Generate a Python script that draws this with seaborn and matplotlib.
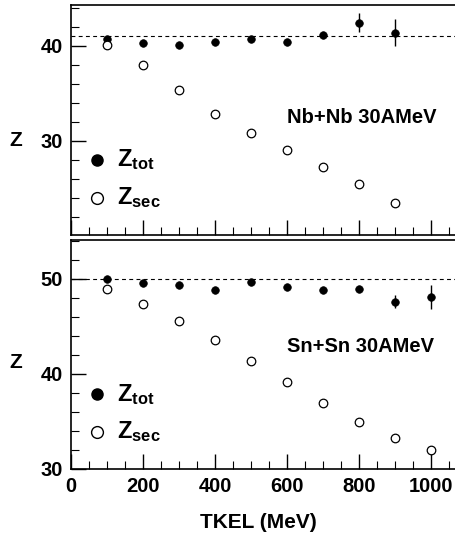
import numpy as np
import pandas as pd
import matplotlib
matplotlib.use("Agg")
import matplotlib.pyplot as plt
from matplotlib.ticker import MultipleLocator
import seaborn as sns

# Nb+Nb 30 AMeV
nb_tkel = [100, 200, 300, 400, 500, 600, 700, 800, 900]
nb_ztot = [40.77, 40.31, 40.14, 40.45, 40.77, 40.42, 41.12, 42.45, 41.40]
nb_ztot_err = [0.0, 0.0, 0.0, 0.0, 0.0, 0.0, 0.0, 0.96, 1.45]
nb_zsec = [40.07, 38.0, 35.38, 32.8, 30.84, 29.02, 27.27, 25.49, 23.46]
nb_zsys = 41

# Sn+Sn 30 AMeV
sn_tkel = [100, 200, 300, 400, 500, 600, 700, 800, 900, 1000]
sn_ztot = [50.0, 49.61, 49.37, 48.84, 49.72, 49.16, 48.81, 48.95, 47.61, 48.10]
sn_ztot_err = [0.0, 0.0, 0.0, 0.0, 0.0, 0.0, 0.0, 0.0, 0.70, 1.26]
sn_zsec = [48.91, 47.37, 45.54, 43.58, 41.37, 39.16, 36.95, 34.91, 33.23, 32.0]
sn_zsys = 50

sns.set_theme(style="ticks")
plt.rcParams["font.family"] = ["Liberation Sans", "DejaVu Sans"]
plt.rcParams["font.weight"] = "bold"
plt.rcParams["mathtext.fontset"] = "custom"
plt.rcParams["mathtext.bf"] = "Liberation Sans:bold"
plt.rcParams["mathtext.rm"] = "Liberation Sans:bold"
plt.rcParams["mathtext.it"] = "Liberation Sans:bold"

fig = plt.figure(figsize=(4.55, 5.38), dpi=100)
ax_top = fig.add_axes([71 / 455, 1 - 235 / 538, 384 / 455, 230 / 538])
ax_bot = fig.add_axes([71 / 455, 1 - 469 / 538, 384 / 455, 229 / 538])

panels = [
    (ax_top, nb_tkel, nb_ztot, nb_ztot_err, nb_zsec, nb_zsys, (20.1, 44.3),
     "Nb+Nb 30AMeV", 0.509, 0.409),
    (ax_bot, sn_tkel, sn_ztot, sn_ztot_err, sn_zsec, sn_zsys, (30, 54.1),
     "Sn+Sn 30AMeV", 0.533, 0.467),
]

for ax, tkel, ztot, zerr, zsec, zsys, ylim, title, ty, ly in panels:
    df = pd.DataFrame({"TKEL": tkel, "Ztot": ztot, "err": zerr, "Zsec": zsec})
    ax.axhline(zsys, color="black", lw=0.8, ls=(0, (3.5, 3)), zorder=1)
    ax.errorbar(df["TKEL"], df["Ztot"], yerr=df["err"], fmt="none",
                ecolor="black", elinewidth=1.0, capsize=0, zorder=2)
    sns.scatterplot(data=df, x="TKEL", y="Ztot", ax=ax, marker="o", s=30,
                    color="black", edgecolor="black", linewidth=0.5, zorder=3)
    sns.scatterplot(data=df, x="TKEL", y="Zsec", ax=ax, marker="o", s=38,
                    facecolor="white", edgecolor="black", linewidth=0.9, zorder=3)

    ax.set_xlim(0, 1067)
    ax.set_ylim(*ylim)
    ax.xaxis.set_major_locator(MultipleLocator(200))
    ax.xaxis.set_minor_locator(MultipleLocator(50))
    ax.yaxis.set_major_locator(MultipleLocator(10))
    ax.yaxis.set_minor_locator(MultipleLocator(2))
    ax.tick_params(which="major", direction="in", length=11, width=1.0,
                   labelsize=14.5, pad=6, color="black", labelcolor="black")
    ax.tick_params(which="minor", direction="in", length=5.5, width=0.8,
                   color="black")
    ax.tick_params(axis="x", top=False)
    ax.tick_params(axis="y", right=False)
    for side in ["left", "bottom", "top"]:
        ax.spines[side].set_linewidth(1.2)
        ax.spines[side].set_color("black")
    ax.spines["right"].set_visible(False)

    ax.set_ylabel("Z", rotation=0, fontsize=15, fontweight="bold",
                  color="black", va="center", ha="center")
    ax.yaxis.set_label_coords(-0.143, ly)

    ax.text(0.5625, ty, title, transform=ax.transAxes, fontsize=14.5,
            fontweight="bold", va="center", ha="left", color="black")

    # key for the two series
    ax.plot([0.067], [0.326], "o", transform=ax.transAxes, ms=8,
            color="black", clip_on=False)
    ax.plot([0.067], [0.163], "o", transform=ax.transAxes, ms=8.5,
            mfc="white", mec="black", mew=1.0, clip_on=False)
    ax.text(0.12, 0.326, r"$\mathbf{Z_{tot}}$", transform=ax.transAxes,
            fontsize=17, va="center", ha="left", color="black")
    ax.text(0.12, 0.163, r"$\mathbf{Z_{sec}}$", transform=ax.transAxes,
            fontsize=17, va="center", ha="left", color="black")

ax_top.set_xlabel("")
ax_top.tick_params(axis="x", labelbottom=False)
ax_bot.set_xlabel("TKEL (MeV)", fontsize=15, fontweight="bold", color="black")
ax_bot.xaxis.set_label_coords(0.488, -0.19)

fig.savefig("out.png", dpi=100, facecolor="white")
